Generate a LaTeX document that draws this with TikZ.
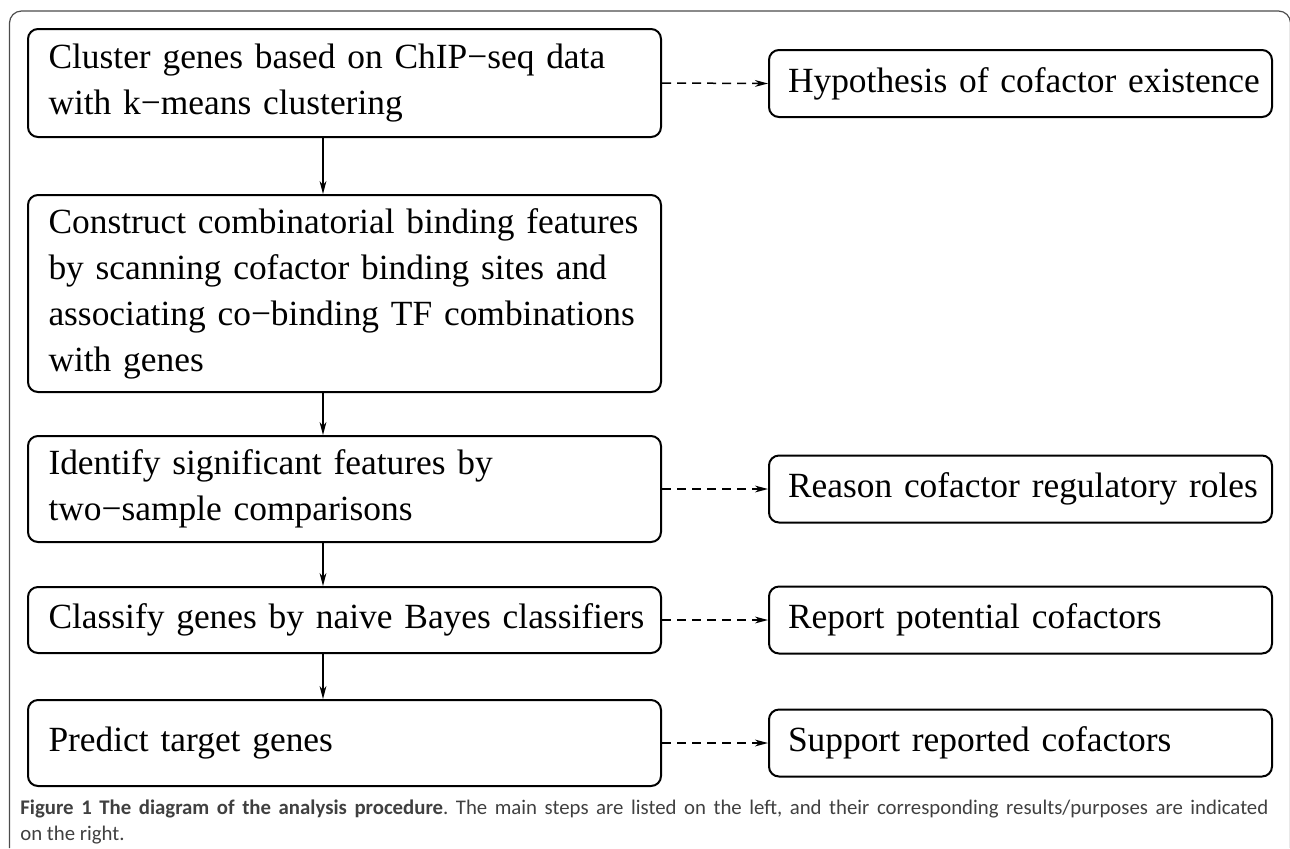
\documentclass[tikz,border=0pt]{standalone}
\usepackage{fontspec}
\setmainfont{Liberation Serif}
\newfontfamily\capfont{Carlito}
\usepackage{tikz}
\usetikzlibrary{arrows.meta,positioning}

\begin{document}
\begin{tikzpicture}[x=0.5pt,y=-0.5pt,
  stepbox/.style={draw,rounded corners=5pt,line width=1pt,
    minimum width=316.5pt,inner xsep=10.25pt,text width=296pt,align=left,
    font=\fontsize{17.7}{23}\selectfont},
  resultbox/.style={draw,rounded corners=5pt,line width=1pt,
    minimum width=251.5pt,minimum height=33.5pt,inner xsep=9.5pt,text width=232.5pt,
    align=left,font=\fontsize{17.7}{23}\selectfont},
  flow/.style={line width=0.75pt,-{Stealth[length=6.5pt,width=3.4pt,inset=2pt]}},
  hint/.style={flow,dash pattern=on 4.5pt off 3pt}]
  \useasboundingbox (0,0) rectangle (1290,848);

  % Frame
  \draw[black!70,line width=0.6pt,rounded corners=6pt]
    (9.5,848) -- (9.5,11) -- (1290.5,11) -- (1290.5,848);

  % Main steps
  \node[stepbox,minimum height=54pt] (cluster) at (344.5,83)
    {\mbox{Cluster genes based on ChIP−seq data}\\with k−means clustering};
  \node[stepbox,minimum height=98.5pt] (construct) at (344.5,293.5)
    {\mbox{Construct combinatorial binding features}\\
     \mbox{by scanning cofactor binding sites and}\\
     \mbox{associating co−binding TF combinations}\\with genes};
  \node[stepbox,minimum height=53pt] (identify) at (344.5,489)
    {Identify significant features by\\two−sample comparisons};
  \node[stepbox,minimum height=33pt] (classify) at (344.5,620)
    {\mbox{Classify genes by naive Bayes classifiers}};
  \node[stepbox,minimum height=43pt] (predict) at (344.5,743)
    {Predict target genes};

  % Results / purposes
  \node[resultbox] (hypo) at (1020.5,83.5) {\mbox{Hypothesis of cofactor existence}};
  \node[resultbox] (reason) at (1020.5,489) {\mbox{Reason cofactor regulatory roles}};
  \node[resultbox] (report) at (1020.5,620) {Report potential cofactors};
  \node[resultbox] (support) at (1020.5,743) {Support reported cofactors};

  % Step arrows
  \draw[flow] ([xshift=-10.75pt]cluster.south) -- ([xshift=-10.75pt]construct.north);
  \draw[flow] ([xshift=-10.75pt]construct.south) -- ([xshift=-10.75pt]identify.north);
  \draw[flow] ([xshift=-10.75pt]identify.south) -- ([xshift=-10.75pt]classify.north);
  \draw[flow] ([xshift=-10.75pt]classify.south) -- ([xshift=-10.75pt]predict.north);

  % Dashed arrows to results
  \draw[hint] (cluster.east) -- (hypo.west);
  \draw[hint] (identify.east) -- (reason.west);
  \draw[hint] (classify.east) -- (report.west);
  \draw[hint] (predict.east) -- (support.west);

  % Caption
  \node[anchor=north west,inner sep=0pt,text width=624pt,align=justify,
    font=\capfont\fontsize{10.4}{13}\selectfont\frenchspacing,text=black!75] (caption) at (20,799)
    {\textbf{Figure 1 The diagram of the analysis procedure}. The main steps are listed on the left, and their corresponding results/purposes are indicated\linebreak on the right.};
\end{tikzpicture}
\end{document}
